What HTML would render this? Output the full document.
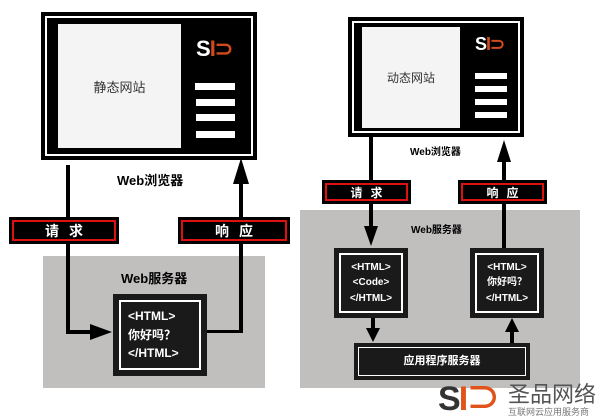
<!DOCTYPE html>
<html><head><meta charset="utf-8"><style>
body{margin:0;width:600px;height:420px;background:#fff;position:relative;overflow:hidden;font-family:"Liberation Sans","Noto Sans CJK SC",sans-serif}
.a{position:absolute;box-sizing:border-box}
.frame{background:#000;border:3px solid #000;outline:2px solid #fff;outline-offset:-7px}
.lt{background:#f4f4f4;display:flex;align-items:center;justify-content:center;color:#333}
.bar{background:#fff}
.lbl{background:#000;box-shadow:inset 0 0 0 3px #000,inset 0 0 0 5px #d11;color:#fff;font-weight:bold;display:flex;align-items:center;justify-content:center}
.bold{font-weight:bold;color:#000}
.hb{background:#1a1a1a;border:5px solid #1a1a1a;}
.hb div{border:2px solid #fff;height:100%;box-sizing:border-box;color:#fff;font-weight:bold;display:flex;flex-direction:column;justify-content:center;align-items:center;line-height:1.55}
.ln{background:#000}
.logo{color:#fff;font-weight:bold;font-family:"Liberation Sans",sans-serif}
</style></head><body>
<!-- left -->
<div class="a" style="left:43px;top:256px;width:222px;height:132px;background:#c1bebe"></div>
<div class="a frame" style="left:41px;top:12px;width:216px;height:148px;outline-offset:-6px"></div>
<div class="a lt" style="left:58px;top:24px;width:123px;height:124px;font-size:13px">静态网站</div>
<div class="a logo" style="left:196px;top:36px;font-size:22px;letter-spacing:-1px">S<span style="color:#d24a1c">I⊃</span></div>
<div class="a bar" style="left:195px;top:83px;width:40px;height:7px"></div>
<div class="a bar" style="left:196px;top:99px;width:39px;height:7px"></div>
<div class="a bar" style="left:196px;top:114px;width:39px;height:7px"></div>
<div class="a bar" style="left:196px;top:131px;width:39px;height:7px"></div>
<div class="a bold" style="left:117px;top:170px;font-size:13px">Web浏览器</div>
<div class="a ln" style="left:66px;top:165px;width:4px;height:169px"></div>
<div class="a ln" style="left:66px;top:330px;width:30px;height:4px"></div>
<svg class="a" style="left:90px;top:322px" width="24" height="20"><polygon points="0,2 22,10 0,18" fill="#000"/></svg>
<div class="a ln" style="left:207px;top:330px;width:36px;height:3px"></div>
<div class="a ln" style="left:239px;top:180px;width:4px;height:153px"></div>
<svg class="a" style="left:231px;top:158px" width="20" height="26"><polygon points="10,0 18,26 2,26" fill="#000"/></svg>
<div class="a lbl" style="left:9px;top:217px;width:110px;height:27px;font-size:14px;letter-spacing:10px;padding-left:10px">请求</div>
<div class="a lbl" style="left:178px;top:217px;width:112px;height:27px;font-size:14px;letter-spacing:10px;padding-left:10px">响应</div>
<div class="a bold" style="left:121px;top:268px;font-size:13px">Web服务器</div>
<div class="a hb" style="left:113px;top:294px;width:94px;height:82px;border-width:6px"><div style="font-size:12px;align-items:flex-start;padding-left:7px">&lt;HTML&gt;<span>你好吗？</span>&lt;/HTML&gt;</div></div>
<!-- right -->
<div class="a" style="left:300px;top:210px;width:280px;height:178px;background:#c1bebe"></div>
<div class="a frame" style="left:348px;top:17px;width:176px;height:120px;outline-offset:-6px"></div>
<div class="a lt" style="left:362px;top:27px;width:98px;height:101px;font-size:12px">动态网站</div>
<div class="a logo" style="left:475px;top:34px;font-size:18px;letter-spacing:-1px">S<span style="color:#d24a1c">I⊃</span></div>
<div class="a bar" style="left:475px;top:73px;width:32px;height:6px"></div>
<div class="a bar" style="left:475px;top:86px;width:32px;height:6px"></div>
<div class="a bar" style="left:475px;top:99px;width:32px;height:6px"></div>
<div class="a bar" style="left:475px;top:112px;width:32px;height:6px"></div>
<div class="a bold" style="left:410px;top:143px;font-size:10px">Web浏览器</div>
<div class="a ln" style="left:369px;top:137px;width:4px;height:92px"></div>
<svg class="a" style="left:363px;top:226px" width="16" height="20"><polygon points="1,0 15,0 8,20" fill="#000"/></svg>
<div class="a ln" style="left:502px;top:160px;width:4px;height:90px"></div>
<svg class="a" style="left:496px;top:140px" width="16" height="22"><polygon points="8,0 15,22 1,22" fill="#000"/></svg>
<div class="a lbl" style="left:322px;top:180px;width:89px;height:24px;font-size:12px;letter-spacing:8px;padding-left:8px">请求</div>
<div class="a lbl" style="left:458px;top:180px;width:89px;height:24px;font-size:12px;letter-spacing:8px;padding-left:8px">响应</div>
<div class="a bold" style="left:411px;top:221px;font-size:10px">Web服务器</div>
<div class="a hb" style="left:334px;top:248px;width:74px;height:70px"><div style="font-size:10px">&lt;HTML&gt;<span>&lt;Code&gt;</span>&lt;/HTML&gt;</div></div>
<div class="a hb" style="left:470px;top:248px;width:74px;height:70px"><div style="font-size:10px">&lt;HTML&gt;<span>你好吗？</span>&lt;/HTML&gt;</div></div>
<div class="a ln" style="left:371px;top:318px;width:4px;height:12px"></div>
<svg class="a" style="left:365px;top:328px" width="16" height="14"><polygon points="1,0 15,0 8,14" fill="#000"/></svg>
<div class="a ln" style="left:510px;top:330px;width:4px;height:14px"></div>
<svg class="a" style="left:504px;top:318px" width="16" height="14"><polygon points="8,0 15,14 1,14" fill="#000"/></svg>
<div class="a hb" style="left:354px;top:343px;width:176px;height:37px;border-width:4px"><div style="font-size:11px;border-width:1.5px">应用程序服务器</div></div>
<div class="a" style="left:438px;top:382px;font-size:34px;font-weight:bold;color:#333;letter-spacing:-2px;line-height:34px">S<span style="color:#e0541c">I⊃</span></div>
<div class="a" style="left:508px;top:383px;font-size:22px;color:#555;line-height:24px">圣品网络</div>
<div class="a" style="left:508px;top:407px;font-size:9px;color:#777;line-height:11px">互联网云应用服务商</div>
</body></html>
